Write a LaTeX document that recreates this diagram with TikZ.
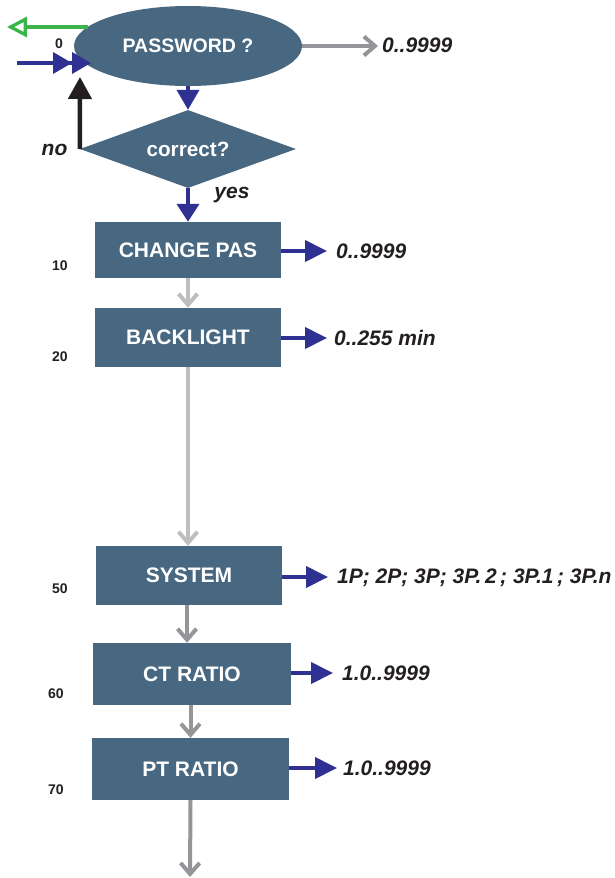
\documentclass[tikz,border=0pt]{standalone}
\usepackage{fontspec}
\setmainfont{Liberation Sans}
\usetikzlibrary{arrows.meta,shapes.geometric}
\definecolor{boxfill}{RGB}{72,103,128}
\definecolor{arrblue}{RGB}{46,49,146}
\definecolor{arrgreen}{RGB}{57,181,74}
\definecolor{midgray}{RGB}{147,149,152}
\definecolor{lightgraytwo}{RGB}{188,190,192}
\definecolor{txtblack}{RGB}{35,31,32}
\begin{document}
\begin{tikzpicture}[x=1pt,y=-1pt,
  boxtext/.style={text=white,font=\fontsize{21}{24}\selectfont\bfseries},
  stepbox/.style={boxtext, fill=boxfill, draw=none, inner sep=0pt, rectangle},
  sidelabel/.style={font=\fontsize{21}{24}\selectfont\bfseries\itshape, text=txtblack, anchor=base west, inner sep=0pt},
  numlabel/.style={font=\fontsize{14}{16}\selectfont\bfseries, text=txtblack, anchor=base, inner sep=0pt},
  bluearr/.style={draw=arrblue, line width=4pt, -{Triangle[length=22pt,width=21pt]}},
  grayarr/.style={draw=midgray, line width=4pt, -{Straight Barb[length=11pt,width=19pt]}},
  lgrayarr/.style={draw=lightgraytwo, line width=4pt, -{Straight Barb[length=11pt,width=19pt]}},
]
\useasboundingbox (0,0) rectangle (614,878);

% top: password ellipse and diamond
\node[ellipse, boxtext, font=\fontsize{19.5}{22}\selectfont\bfseries, fill=boxfill, minimum width=228pt, minimum height=80pt, inner sep=0pt] (pw) at (188,46) {PASSWORD ?};
\node[diamond, boxtext, font=\fontsize{20.7}{24}\selectfont\bfseries, fill=boxfill, minimum width=216pt, minimum height=78pt, aspect=2.77, inner sep=0pt] (cor) at (188,149) {correct?};

% green exit arrow
\coordinate (gs) at (88,27);
\coordinate (ge) at (7,27);
\draw[draw=arrgreen, line width=3.3pt, -{Triangle[open,length=20pt,width=20pt]}] (gs) -- (ge);
\node[numlabel] (n0) at (59,48) {0};

% blue double entry arrow
\coordinate (bs) at (17,63);
\coordinate (be) at (91,63);
\draw[draw=arrblue, line width=3.5pt, -{Triangle[length=19pt,width=21pt]Triangle[length=19pt,width=21pt]}] (bs) -- (be);

% black "no" arrow
\coordinate (blk) at (80,77);
\draw[draw=txtblack, line width=4.5pt, -{Triangle[length=22pt,width=23pt]}] (cor.west) -- (blk);
\node[sidelabel, anchor=base] (no) at (54.5,155) {no};
\node[sidelabel, anchor=base] (yes) at (232,198) {yes};

% password value
\node[sidelabel] (pwv) at (382,52) {0..9999};
\draw[grayarr] (pw.east) -- ([xshift=-4pt]pwv.west |- pw.east);

\draw[bluearr, -{Triangle[length=20pt,width=22pt]}] (pw.south) -- (cor.north);

% boxes
\node[stepbox, minimum width=186pt, minimum height=56pt] (cp) at (188,250) {CHANGE PAS};
\node[stepbox, minimum width=186pt, minimum height=59pt] (bl) at (188,337.5) {BACKLIGHT};
\node[stepbox, minimum width=186pt, minimum height=59pt] (sys) at (189,575.5) {SYSTEM};
\node[stepbox, minimum width=198pt, minimum height=62pt] (ct) at (192,674) {CT RATIO};
\node[stepbox, minimum width=197pt, minimum height=62pt] (pt) at (190.5,769) {PT RATIO};

\draw[bluearr, -{Triangle[length=18pt,width=22pt]}] (cor.south) -- (cp.north);

% step numbers
\node[numlabel] (n10) at (60,270) {10};
\node[numlabel] (n20) at (60,361) {20};
\node[numlabel] (n50) at (60,593) {50};
\node[numlabel] (n60) at (56,698) {60};
\node[numlabel] (n70) at (56,794) {70};

% value labels
\node[sidelabel] (cpv) at (336,258) {0..9999};
\node[sidelabel] (blv) at (334,345) {0..255 min};
\node[sidelabel] (sysv) at (337,583) {1P; 2P; 3P; 3P.\,2\,; 3P.1\,; 3P.n};
\node[sidelabel] (ctv) at (342,680) {1.0..9999};
\node[sidelabel] (ptv) at (343,775) {1.0..9999};

\draw[bluearr] (cp.east |- 0,251) -- (327,251);
\draw[bluearr] (bl.east |- 0,338) -- (327,338);
\draw[bluearr] (sys.east |- 0,577) -- (328,577);
\draw[bluearr] (ct.east |- 0,673) -- (333,673);
\draw[bluearr] (pt.east |- 0,768) -- (337,768);

% vertical flow
\draw[lgrayarr] (cp.south) -- (bl.north);
\draw[lgrayarr] (bl.south) -- (bl.south |- sys.north);
\draw[grayarr] (sys.south -| 187,0) -- (187,0 |- ct.north);
\draw[grayarr] (pt.north |- ct.south) -- (pt.north);
\coordinate (bottom) at (190,877);
\draw[grayarr] (pt.south) -- (bottom);
\end{tikzpicture}
\end{document}
